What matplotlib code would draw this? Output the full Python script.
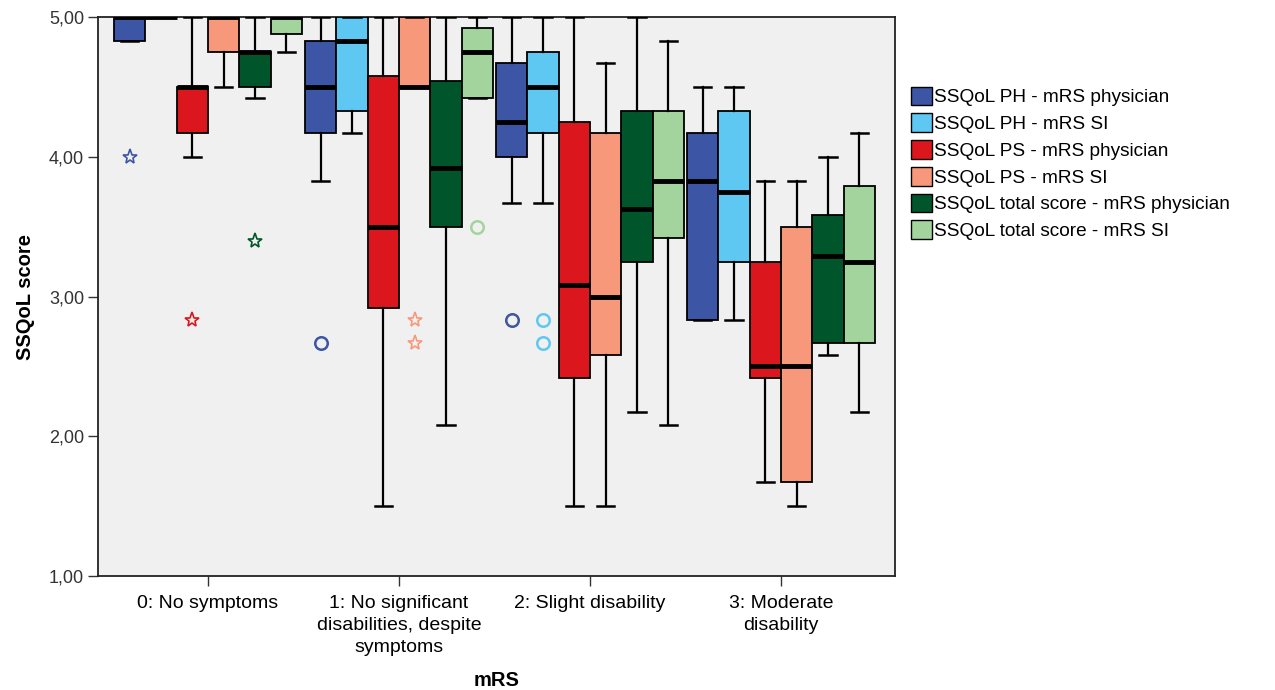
import matplotlib
matplotlib.use("Agg")
import matplotlib.pyplot as plt
from matplotlib.patches import Patch
from matplotlib import font_manager

# ---------------- data ----------------
categories = ["0: No symptoms",
              "1: No significant\ndisabilities, despite\nsymptoms",
              "2: Slight disability",
              "3: Moderate\ndisability"]

series_names = ["SSQoL PH - mRS physician",
                "SSQoL PH - mRS SI",
                "SSQoL PS - mRS physician",
                "SSQoL PS - mRS SI",
                "SSQoL total score - mRS physician",
                "SSQoL total score - mRS SI"]

series_colors = ["#3c55a5", "#5ec8f2", "#dc161d", "#f7987a", "#00562a", "#a3d49d"]

# five-number summaries per series, one value per mRS category
ph_phys_whislo = [4.83, 3.83, 3.67, 2.83]
ph_phys_q1 = [4.83, 4.17, 4.00, 2.83]
ph_phys_med = [5.00, 4.50, 4.25, 3.83]
ph_phys_q3 = [5.00, 4.83, 4.67, 4.17]
ph_phys_whishi = [5.00, 5.00, 5.00, 4.50]

ph_si_whislo = [5.00, 4.17, 3.67, 2.83]
ph_si_q1 = [5.00, 4.33, 4.17, 3.25]
ph_si_med = [5.00, 4.83, 4.50, 3.75]
ph_si_q3 = [5.00, 5.00, 4.75, 4.33]
ph_si_whishi = [5.00, 5.00, 5.00, 4.50]

ps_phys_whislo = [4.00, 1.50, 1.50, 1.67]
ps_phys_q1 = [4.17, 2.92, 2.42, 2.42]
ps_phys_med = [4.50, 3.50, 3.08, 2.50]
ps_phys_q3 = [4.50, 4.58, 4.25, 3.25]
ps_phys_whishi = [5.00, 5.00, 5.00, 3.83]

ps_si_whislo = [4.50, 4.50, 1.50, 1.50]
ps_si_q1 = [4.75, 4.50, 2.58, 1.67]
ps_si_med = [5.00, 4.50, 3.00, 2.50]
ps_si_q3 = [5.00, 5.00, 4.17, 3.50]
ps_si_whishi = [5.00, 5.00, 4.67, 3.83]

tot_phys_whislo = [4.42, 2.08, 2.17, 2.58]
tot_phys_q1 = [4.50, 3.50, 3.25, 2.67]
tot_phys_med = [4.75, 3.92, 3.625, 3.29]
tot_phys_q3 = [4.75, 4.54, 4.33, 3.58]
tot_phys_whishi = [5.00, 5.00, 5.00, 4.00]

tot_si_whislo = [4.75, 4.42, 2.08, 2.17]
tot_si_q1 = [4.875, 4.42, 3.42, 2.67]
tot_si_med = [5.00, 4.75, 3.83, 3.25]
tot_si_q3 = [5.00, 4.92, 4.33, 3.79]
tot_si_whishi = [5.00, 5.00, 4.83, 4.17]

# outliers: (series index, category index, value)
circle_series = [0, 0, 1, 1, 5]
circle_cat = [1, 2, 2, 2, 1]
circle_val = [2.67, 2.83, 2.83, 2.67, 3.50]

star_series = [0, 2, 3, 3, 4]
star_cat = [0, 0, 1, 1, 0]
star_val = [4.00, 2.83, 2.83, 2.67, 3.40]

y_ticks = [1, 2, 3, 4, 5]
y_ticklabels = ["1,00", "2,00", "3,00", "4,00", "5,00"]

# ---------------- plotting ----------------
available = {f.name for f in font_manager.fontManager.ttflist}
narrow = "Liberation Sans Narrow" if "Liberation Sans Narrow" in available else "Liberation Sans"
plt.rcParams['font.family'] = ['Liberation Sans', 'DejaVu Sans']

fig = plt.figure(figsize=(12.75, 6.90), dpi=100)
ax = fig.add_axes([98 / 1275, 1 - 576 / 690, (895 - 98) / 1275, (576 - 17) / 690])
ax.set_facecolor("#f0f0f0")

all_stats = [
    (ph_phys_whislo, ph_phys_q1, ph_phys_med, ph_phys_q3, ph_phys_whishi),
    (ph_si_whislo, ph_si_q1, ph_si_med, ph_si_q3, ph_si_whishi),
    (ps_phys_whislo, ps_phys_q1, ps_phys_med, ps_phys_q3, ps_phys_whishi),
    (ps_si_whislo, ps_si_q1, ps_si_med, ps_si_q3, ps_si_whishi),
    (tot_phys_whislo, tot_phys_q1, tot_phys_med, tot_phys_q3, tot_phys_whishi),
    (tot_si_whislo, tot_si_q1, tot_si_med, tot_si_q3, tot_si_whishi),
]

step = 0.164
n = len(series_names)
offsets = [(i - (n - 1) / 2) * step for i in range(n)]

for si, (wlo, q1, med, q3, whi) in enumerate(all_stats):
    stats = []
    for ci in range(len(categories)):
        stats.append(dict(whislo=wlo[ci], q1=q1[ci], med=med[ci], q3=q3[ci],
                          whishi=whi[ci], fliers=[]))
    positions = [ci + offsets[si] for ci in range(len(categories))]
    ax.bxp(stats, positions=positions, widths=step, patch_artist=True,
           showfliers=False, manage_ticks=False,
           boxprops=dict(facecolor=series_colors[si], edgecolor="black", linewidth=1.3),
           medianprops=dict(color="black", linewidth=3.5, solid_capstyle="butt"),
           whiskerprops=dict(color="black", linewidth=1.6),
           capprops=dict(color="black", linewidth=1.8),
           capwidths=step * 0.55, zorder=3)

for s, c, v in zip(circle_series, circle_cat, circle_val):
    ax.plot(c + offsets[s], v, marker="o", markersize=9, markerfacecolor="none",
            markeredgecolor=series_colors[s], markeredgewidth=1.8, linestyle="none", zorder=4)
for s, c, v in zip(star_series, star_cat, star_val):
    ax.plot(c + offsets[s], v, marker="*", markersize=11, markerfacecolor="none",
            markeredgecolor=series_colors[s], markeredgewidth=1.2, linestyle="none", zorder=4)

ax.set_xlim(-0.576, 3.597)
ax.set_ylim(1, 5)
ax.set_yticks(y_ticks)
ax.set_yticklabels(y_ticklabels, fontsize=13, color="#333333")
ax.set_xticks(range(len(categories)))
ax.set_xticklabels(categories, fontsize=14, family=[narrow, 'DejaVu Sans'], linespacing=1.38)
ax.tick_params(axis="both", direction="out", length=7, width=1, color="#333333",
               top=False, right=False)
ax.tick_params(axis="x", pad=7)
ax.tick_params(axis="y", pad=3)
for sp in ax.spines.values():
    sp.set_linewidth(1.3)
    sp.set_color("#222222")

ax.set_ylabel("SSQoL score", fontsize=14.5, fontweight="bold", labelpad=10)
ax.set_xlabel("mRS", fontsize=14.5, fontweight="bold", family=[narrow, 'DejaVu Sans'])
ax.xaxis.set_label_coords(0.5 + (497 - 496.5) / 797, (576 - 671) / 559)

handles = [Patch(facecolor=c, edgecolor="black", linewidth=1.0) for c in series_colors]
fig.legend(handles, series_names, loc="upper left", bbox_to_anchor=(903 / 1275, 1 - 79 / 690),
           frameon=False, fontsize=13.7, handlelength=1.1, handleheight=1.15,
           handletextpad=0.15, labelspacing=0.36, borderaxespad=0)

fig.savefig("out.png", dpi=100)
